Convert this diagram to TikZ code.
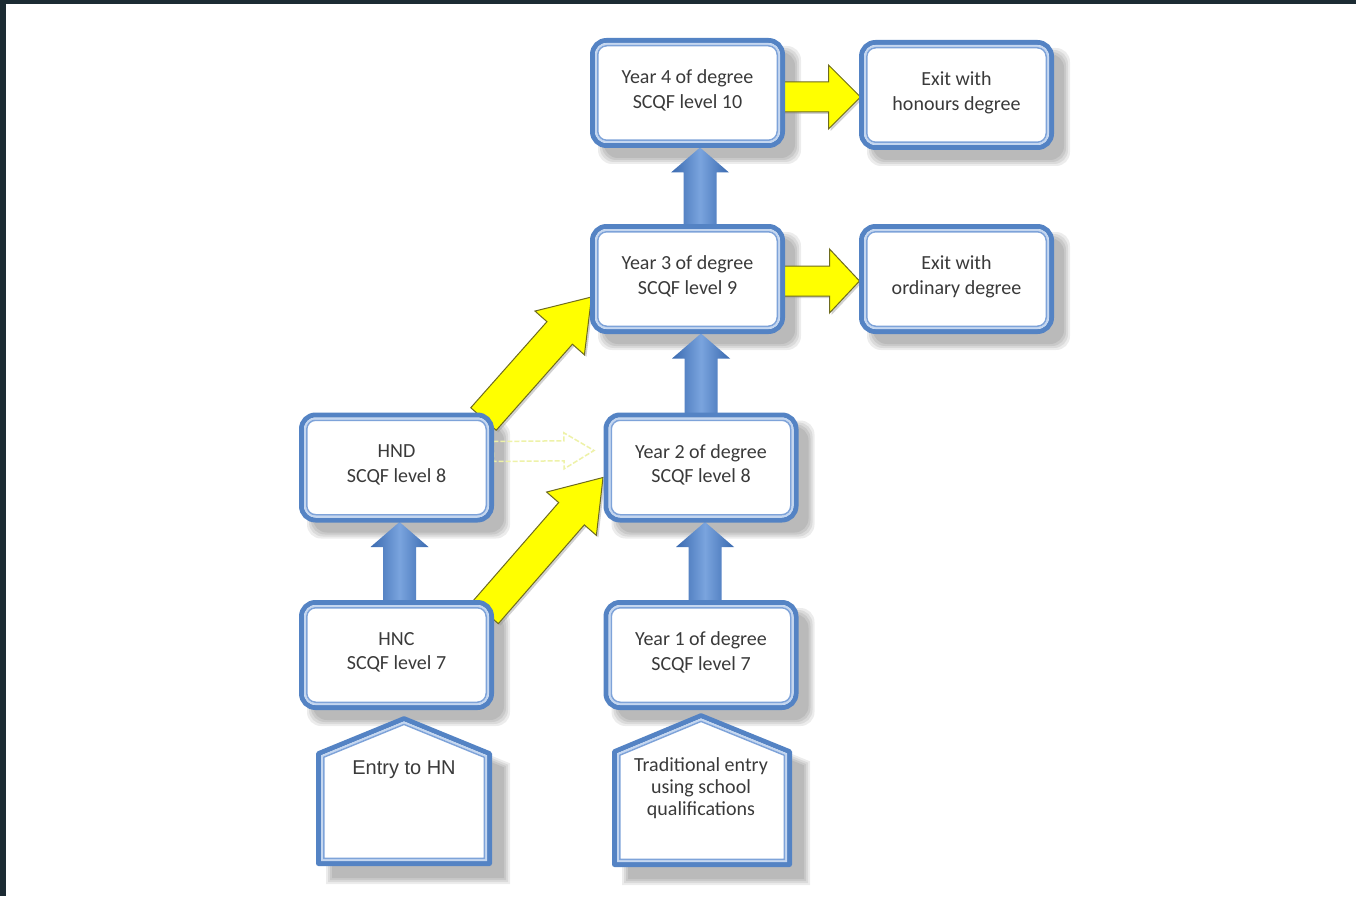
\documentclass[tikz,border=0pt]{standalone}
\usepackage{fontspec}
\setmainfont{Carlito}
\newfontfamily\arialf{Liberation Sans}
\usetikzlibrary{calc}
\definecolor{frameC}{HTML}{1C2B33}
\definecolor{bB}{HTML}{5483C4}
\definecolor{bLight}{HTML}{C5D7F0}
\definecolor{bThin}{HTML}{7EA3D9}
\definecolor{bD}{HTML}{3A6AB0}
\definecolor{bM}{HTML}{7AA4DE}
\definecolor{txt}{HTML}{3A3A3A}
\definecolor{ylw}{HTML}{FFFF00}
\definecolor{yDark}{HTML}{6E6B1F}
\definecolor{yFaint}{HTML}{EEF2A8}

\pgfdeclarelayer{bglayer}
\pgfdeclarelayer{shadowlayer}
\pgfdeclarelayer{arrowlayer}
\pgfsetlayers{bglayer,shadowlayer,arrowlayer,main}

\newcommand{\dropstrut}{\rule[-8pt]{0pt}{8pt}}

\tikzset{
  boxnode/.style={draw=bB, line width=5pt, fill=white, rounded corners=14pt,
    inner sep=0pt, outer sep=0pt, minimum width=190pt, minimum height=105pt,
    align=center, text=txt, font=\fontsize{20}{24.5}\selectfont},
  pentouter/.style={draw=bB, line width=5pt, fill=white, line join=round},
  bandline/.style={draw=bLight, line width=2pt, rounded corners=10.5pt},
  thinline/.style={draw=bThin, line width=1.5pt, rounded corners=9pt},
  softshadow/.style={fill=black, fill opacity=0.075, rounded corners=14pt},
  bluearrow/.style={left color=bD, right color=bD, middle color=bM, draw=none},
  yellowarrow/.style={fill=ylw, draw=yDark, line width=1pt, line join=miter,
    preaction={fill=black!40, opacity=0.45, transform canvas={xshift=2pt,yshift=-2pt}}},
  faintarrow/.style={draw=yFaint, line width=1.5pt, dash pattern=on 5pt off 2pt},
}

% #1 style, #2 from, #3 to, #4 shaft half width, #5 head half width, #6 head length
\newcommand{\blockarrow}[6]{%
  \coordinate (bah) at ($(#3)!#6!(#2)$);
  \path[#1] ($(#2)!#4!90:(#3)$) -- ($(bah)!#4!90:(#3)$) -- ($(bah)!#5!90:(#3)$)
    -- (#3) -- ($(bah)!#5!-90:(#3)$) -- ($(bah)!#4!-90:(#3)$) -- ($(#2)!#4!-90:(#3)$) -- cycle;
}
% #1 inset, #2 xl, #3 xr, #4 xpk, #5 ypk, #6 ysh, #7 yb
\newcommand{\pentpath}[7]{({#2+(#1)},{#7-(#1)}) -- ({#2+(#1)},{#6+0.67*(#1)}) -- (#4,{#5+1.08*(#1)}) -- ({#3-(#1)},{#6+0.67*(#1)}) -- ({#3-(#1)},{#7-(#1)}) -- cycle}

\begin{document}
\begin{tikzpicture}[x=1pt,y=-1pt]
\useasboundingbox (0,0) rectangle (1356,896);
\begin{pgfonlayer}{bglayer}
\fill[white] (0,0) rectangle (1356,896);
\fill[frameC] (0,0) rectangle (1356,4);
\fill[frameC] (0,0) rectangle (6,896);
\end{pgfonlayer}

% boxes
\node[boxnode] (y4)  at (687.5,93)   {Year 4 of degree\\SCQF level 10\dropstrut};
\node[boxnode] (ex4) at (956.5,95)   {Exit with\\honours degree\dropstrut};
\node[boxnode] (y3)  at (687.5,279)  {Year 3 of degree\\SCQF level 9\dropstrut};
\node[boxnode] (ex3) at (956.5,279)  {Exit with\\ordinary degree\dropstrut};
\node[boxnode] (y2)  at (701,467.5)  {Year 2 of degree\\SCQF level 8\dropstrut};
\node[boxnode] (hnd) at (396.5,467.5){HND\\SCQF level 8\dropstrut};
\node[boxnode] (hnc) at (396.5,655)  {HNC\\SCQF level 7\dropstrut};
\node[boxnode] (y1)  at (701,655)    {Year 1 of degree\\SCQF level 7\dropstrut};

\foreach \n in {y4,ex4,y3,ex3,y2,hnd,hnc,y1}{
  \draw[bandline] ([xshift=3.5pt,yshift=-3.5pt]\n.north west) rectangle ([xshift=-3.5pt,yshift=3.5pt]\n.south east);
  \draw[thinline] ([xshift=5.25pt,yshift=-5.25pt]\n.north west) rectangle ([xshift=-5.25pt,yshift=5.25pt]\n.south east);
}

% entry pentagons
\draw[pentouter] \pentpath{2.5}{316}{492}{404}{716}{752}{866};
\draw[bandline, rounded corners=0pt] \pentpath{6}{316}{492}{404}{716}{752}{866};
\draw[thinline, rounded corners=0pt] \pentpath{7.75}{316}{492}{404}{716}{752}{866};
\node[font=\arialf\fontsize{20}{24}\selectfont, text=txt] (entry) at (404,770) {Entry to HN};

\draw[pentouter] \pentpath{2.5}{612}{792}{701}{713}{750}{867};
\draw[bandline, rounded corners=0pt] \pentpath{6}{612}{792}{701}{713}{750}{867};
\draw[thinline, rounded corners=0pt] \pentpath{7.75}{612}{792}{701}{713}{750}{867};
\node[align=center, font=\fontsize{20}{22}\selectfont, text=txt] (trad) at (701,788) {Traditional entry\\using school\\qualifications};

% soft shadows
\begin{pgfonlayer}{shadowlayer}
\foreach \n in {y4,ex4,y3,ex3,y2,hnd,hnc,y1}{
  \foreach \e in {4,2,0,-2}{
    \fill[softshadow] ([xshift={(9.5-\e)*1pt},yshift={(-9.5+\e)*1pt}]\n.north west) rectangle ([xshift={(14.5+\e)*1pt},yshift={(-14.5-\e)*1pt}]\n.south east);
  }
}
\foreach \e in {4,2,0,-2}{
  \fill[softshadow, rounded corners=0pt, shift={(14,14)}] \pentpath{-\e}{316}{492}{404}{716}{752}{866};
  \fill[softshadow, rounded corners=0pt, shift={(14,14)}] \pentpath{-\e}{612}{792}{701}{713}{750}{867};
}
\end{pgfonlayer}

% arrows
\begin{pgfonlayer}{arrowlayer}
\coordinate (b1s) at ($(y3.north)+(12.5,0)$);
\coordinate (b1e) at ($(y4.south)+(12.5,2)$);
\blockarrow{bluearrow}{b1s}{b1e}{16.5pt}{29pt}{25pt}
\coordinate (b2s) at ($(y2.north)+(0,0)$);
\coordinate (b2e) at ($(y3.south)+(13.5,2)$);
\blockarrow{bluearrow}{b2s}{b2e}{16.5pt}{29pt}{25pt}
\coordinate (b3s) at ($(y1.north)+(4,0)$);
\coordinate (b3e) at ($(y2.south)+(4,2)$);
\blockarrow{bluearrow}{b3s}{b3e}{16.5pt}{29pt}{25pt}
\coordinate (b4s) at ($(hnc.north)+(3,0)$);
\coordinate (b4e) at ($(hnd.south)+(3,2)$);
\blockarrow{bluearrow}{b4s}{b4e}{16.5pt}{29pt}{25pt}

\coordinate (ya1s) at ($(hnd.north east)+(-8,4)$);
\coordinate (ya1e) at ($(y3.west)+(-1,18)$);
\blockarrow{yellowarrow}{ya1s}{ya1e}{17pt}{33pt}{48pt}
\coordinate (ya2s) at ($(hnc.north east)+(-6,10)$);
\coordinate (ya2e) at ($(y2.west)+(-3,10)$);
\blockarrow{yellowarrow}{ya2s}{ya2e}{17pt}{33pt}{48pt}
\coordinate (ya3s) at ($(y4.east)+(0,4)$);
\coordinate (ya3e) at ($(ex4.west)+(-1,2)$);
\blockarrow{yellowarrow}{ya3s}{ya3e}{15pt}{32pt}{32pt}
\coordinate (ya4s) at ($(y3.east)+(0,2)$);
\coordinate (ya4e) at ($(ex3.west)+(-2,2)$);
\blockarrow{yellowarrow}{ya4s}{ya4e}{15pt}{32pt}{30pt}
\coordinate (fas) at ($(hnd.east)+(2,-16)$);
\coordinate (fae) at ($(y2.west)+(-12,-17)$);
\blockarrow{faintarrow}{fas}{fae}{10pt}{18pt}{30pt}
\end{pgfonlayer}
\end{tikzpicture}
\end{document}
